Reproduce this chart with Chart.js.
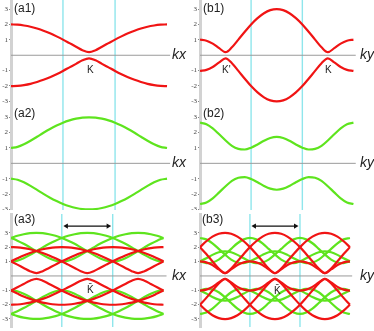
<!DOCTYPE html>
<html>
<head>
<meta charset="utf-8">
<script src="https://cdn.jsdelivr.net/npm/chart.js"></script>
<style>
  body { margin:0; background:#fff; }
  #fig { position:relative; width:374px; height:331px; overflow:hidden; background:#fff; }
  #fig canvas { position:absolute; }
  .lbl { position:absolute; font-family:"Liberation Sans", Arial, sans-serif; color:#222; white-space:nowrap; line-height:1; }
  .pn { font-size:12px; }
  .kk { font-size:14px; font-style:italic; }
  .kp { font-size:10px; }
</style>
</head>
<body>
<div id="fig">
  <canvas id="a1" width="187" height="105" style="left:0;top:0"></canvas>
  <canvas id="b1" width="187" height="105" style="left:187px;top:0"></canvas>
  <canvas id="a2" width="187" height="105" style="left:0;top:105px"></canvas>
  <canvas id="b2" width="187" height="105" style="left:187px;top:105px"></canvas>
  <canvas id="a3" width="187" height="121" style="left:0;top:210px"></canvas>
  <canvas id="b3" width="187" height="121" style="left:187px;top:210px"></canvas>

  <span class="lbl pn" style="left:14px;top:2px">(a1)</span>
  <span class="lbl pn" style="left:203px;top:2px">(b1)</span>
  <span class="lbl pn" style="left:14px;top:107px">(a2)</span>
  <span class="lbl pn" style="left:203px;top:107px">(b2)</span>
  <span class="lbl pn" style="left:14px;top:213px">(a3)</span>
  <span class="lbl pn" style="left:202px;top:213px">(b3)</span>

  <span class="lbl kk" style="left:172px;top:47px">kx</span>
  <span class="lbl kk" style="left:360px;top:47px">ky</span>
  <span class="lbl kk" style="left:172px;top:155px">kx</span>
  <span class="lbl kk" style="left:360px;top:155px">ky</span>
  <span class="lbl kk" style="left:172px;top:268px">kx</span>
  <span class="lbl kk" style="left:360px;top:268px">ky</span>

  <span class="lbl kp" style="left:87px;top:65px">K</span>
  <span class="lbl kp" style="left:222px;top:65px">K'</span>
  <span class="lbl kp" style="left:325px;top:65px">K</span>
  <span class="lbl kp" style="left:87px;top:285px">K&#772;</span>
  <span class="lbl kp" style="left:274px;top:286px">K&#772;</span>
</div>
<script>
// sample positions along k (0 = left edge, 1 = right edge)
const tGrid = [0,0.042,0.083,0.125,0.167,0.208,0.25,0.292,0.333,0.375,0.417,0.458,0.5,0.542,0.583,0.625,0.667,0.708,0.75,0.792,0.833,0.875,0.917,0.958,1];
const cellEdges = [0.333, 0.667];
const yTicks = [-3, -2, -1, 1, 2, 3];

// (a1) red bands along kx
const a1Up = [2.01,1.99,1.94,1.86,1.74,1.6,1.43,1.23,1.02,0.79,0.56,0.33,0.2,0.33,0.56,0.79,1.02,1.23,1.43,1.6,1.74,1.86,1.94,1.99,2.01];
const a1Dn = [-2.01,-1.99,-1.94,-1.86,-1.74,-1.6,-1.43,-1.23,-1.02,-0.79,-0.56,-0.33,-0.2,-0.33,-0.56,-0.79,-1.02,-1.23,-1.43,-1.6,-1.74,-1.86,-1.94,-1.99,-2.01];

// (b1) red bands along ky
const b1Up = [1.02,0.95,0.76,0.46,0.2,0.52,1.02,1.53,2.01,2.42,2.74,2.94,3.01,2.94,2.74,2.42,2.01,1.53,1.02,0.52,0.2,0.46,0.76,0.95,1.02];
const b1Dn = [-1.02,-0.95,-0.76,-0.46,-0.2,-0.52,-1.02,-1.53,-2.01,-2.42,-2.74,-2.94,-3.01,-2.94,-2.74,-2.42,-2.01,-1.53,-1.02,-0.52,-0.2,-0.46,-0.76,-0.95,-1.02];

// (a2) green bands along kx
const a2Up = [1,1.07,1.24,1.47,1.73,1.99,2.24,2.46,2.65,2.8,2.91,2.98,3,2.98,2.91,2.8,2.65,2.46,2.24,1.99,1.73,1.47,1.24,1.07,1];
const a2Dn = [-1,-1.07,-1.24,-1.47,-1.73,-1.99,-2.24,-2.46,-2.65,-2.8,-2.91,-2.98,-3,-2.98,-2.91,-2.8,-2.65,-2.46,-2.24,-1.99,-1.73,-1.47,-1.24,-1.07,-1];

// (b2) green bands along ky
const b2Up = [2.65,2.55,2.28,1.89,1.49,1.14,0.94,0.9,1.02,1.23,1.47,1.65,1.72,1.65,1.47,1.23,1.02,0.9,0.94,1.14,1.49,1.89,2.28,2.55,2.65];
const b2Dn = [-2.65,-2.55,-2.28,-1.89,-1.49,-1.14,-0.94,-0.9,-1.02,-1.23,-1.47,-1.65,-1.72,-1.65,-1.47,-1.23,-1.02,-0.9,-0.94,-1.14,-1.49,-1.89,-2.28,-2.55,-2.65];

// (a3) folded bands along kx
const a3RedUp = [
  [2.01,1.99,1.94,1.86,1.74,1.6,1.43,1.23,1.02,0.79,0.56,0.33,0.2,0.33,0.56,0.79,1.02,1.23,1.43,1.6,1.74,1.86,1.94,1.99,2.01],
  [1.02,0.79,0.56,0.33,0.2,0.33,0.56,0.79,1.02,1.23,1.43,1.6,1.74,1.86,1.94,1.99,2.01,1.99,1.94,1.86,1.74,1.6,1.43,1.23,1.02],
  [1.02,1.23,1.43,1.6,1.74,1.86,1.94,1.99,2.01,1.99,1.94,1.86,1.74,1.6,1.43,1.23,1.02,0.79,0.56,0.33,0.2,0.33,0.56,0.79,1.02]
];
const a3RedDn = [
  [-2.01,-1.99,-1.94,-1.86,-1.74,-1.6,-1.43,-1.23,-1.02,-0.79,-0.56,-0.33,-0.2,-0.33,-0.56,-0.79,-1.02,-1.23,-1.43,-1.6,-1.74,-1.86,-1.94,-1.99,-2.01],
  [-1.02,-0.79,-0.56,-0.33,-0.2,-0.33,-0.56,-0.79,-1.02,-1.23,-1.43,-1.6,-1.74,-1.86,-1.94,-1.99,-2.01,-1.99,-1.94,-1.86,-1.74,-1.6,-1.43,-1.23,-1.02],
  [-1.02,-1.23,-1.43,-1.6,-1.74,-1.86,-1.94,-1.99,-2.01,-1.99,-1.94,-1.86,-1.74,-1.6,-1.43,-1.23,-1.02,-0.79,-0.56,-0.33,-0.2,-0.33,-0.56,-0.79,-1.02]
];
const a3GreenUp = [
  [1,1.07,1.24,1.47,1.73,1.99,2.24,2.46,2.65,2.8,2.91,2.98,3,2.98,2.91,2.8,2.65,2.46,2.24,1.99,1.73,1.47,1.24,1.07,1],
  [2.65,2.8,2.91,2.98,3,2.98,2.91,2.8,2.65,2.46,2.24,1.99,1.73,1.47,1.24,1.07,1,1.07,1.24,1.47,1.73,1.99,2.24,2.46,2.65],
  [2.65,2.46,2.24,1.99,1.73,1.47,1.24,1.07,1,1.07,1.24,1.47,1.73,1.99,2.24,2.46,2.65,2.8,2.91,2.98,3,2.98,2.91,2.8,2.65]
];
const a3GreenDn = [
  [-1,-1.07,-1.24,-1.47,-1.73,-1.99,-2.24,-2.46,-2.65,-2.8,-2.91,-2.98,-3,-2.98,-2.91,-2.8,-2.65,-2.46,-2.24,-1.99,-1.73,-1.47,-1.24,-1.07,-1],
  [-2.65,-2.8,-2.91,-2.98,-3,-2.98,-2.91,-2.8,-2.65,-2.46,-2.24,-1.99,-1.73,-1.47,-1.24,-1.07,-1,-1.07,-1.24,-1.47,-1.73,-1.99,-2.24,-2.46,-2.65],
  [-2.65,-2.46,-2.24,-1.99,-1.73,-1.47,-1.24,-1.07,-1,-1.07,-1.24,-1.47,-1.73,-1.99,-2.24,-2.46,-2.65,-2.8,-2.91,-2.98,-3,-2.98,-2.91,-2.8,-2.65]
];

// (b3) folded bands along ky
const b3RedUp = [
  [1.02,0.95,0.76,0.46,0.2,0.52,1.02,1.53,2.01,2.42,2.74,2.94,3.01,2.94,2.74,2.42,2.01,1.53,1.02,0.52,0.2,0.46,0.76,0.95,1.02],
  [2.01,2.42,2.74,2.94,3.01,2.94,2.74,2.42,2.01,1.53,1.02,0.52,0.2,0.46,0.76,0.95,1.02,0.95,0.76,0.46,0.2,0.52,1.02,1.53,2.01],
  [2.01,1.53,1.02,0.52,0.2,0.46,0.76,0.95,1.02,0.95,0.76,0.46,0.2,0.52,1.02,1.53,2.01,2.42,2.74,2.94,3.01,2.94,2.74,2.42,2.01]
];
const b3RedDn = [
  [-1.02,-0.95,-0.76,-0.46,-0.2,-0.52,-1.02,-1.53,-2.01,-2.42,-2.74,-2.94,-3.01,-2.94,-2.74,-2.42,-2.01,-1.53,-1.02,-0.52,-0.2,-0.46,-0.76,-0.95,-1.02],
  [-2.01,-2.42,-2.74,-2.94,-3.01,-2.94,-2.74,-2.42,-2.01,-1.53,-1.02,-0.52,-0.2,-0.46,-0.76,-0.95,-1.02,-0.95,-0.76,-0.46,-0.2,-0.52,-1.02,-1.53,-2.01],
  [-2.01,-1.53,-1.02,-0.52,-0.2,-0.46,-0.76,-0.95,-1.02,-0.95,-0.76,-0.46,-0.2,-0.52,-1.02,-1.53,-2.01,-2.42,-2.74,-2.94,-3.01,-2.94,-2.74,-2.42,-2.01]
];
const b3GreenUp = [
  [2.65,2.55,2.28,1.89,1.49,1.14,0.94,0.9,1.02,1.23,1.47,1.65,1.72,1.65,1.47,1.23,1.02,0.9,0.94,1.14,1.49,1.89,2.28,2.55,2.65],
  [1.02,1.23,1.47,1.65,1.72,1.65,1.47,1.23,1.02,0.9,0.94,1.14,1.49,1.89,2.28,2.55,2.65,2.55,2.28,1.89,1.49,1.14,0.94,0.9,1.02],
  [1.02,0.9,0.94,1.14,1.49,1.89,2.28,2.55,2.65,2.55,2.28,1.89,1.49,1.14,0.94,0.9,1.02,1.23,1.47,1.65,1.72,1.65,1.47,1.23,1.02]
];
const b3GreenDn = [
  [-2.65,-2.55,-2.28,-1.89,-1.49,-1.14,-0.94,-0.9,-1.02,-1.23,-1.47,-1.65,-1.72,-1.65,-1.47,-1.23,-1.02,-0.9,-0.94,-1.14,-1.49,-1.89,-2.28,-2.55,-2.65],
  [-1.02,-1.23,-1.47,-1.65,-1.72,-1.65,-1.47,-1.23,-1.02,-0.9,-0.94,-1.14,-1.49,-1.89,-2.28,-2.55,-2.65,-2.55,-2.28,-1.89,-1.49,-1.14,-0.94,-0.9,-1.02],
  [-1.02,-0.9,-0.94,-1.14,-1.49,-1.89,-2.28,-2.55,-2.65,-2.55,-2.28,-1.89,-1.49,-1.14,-0.94,-0.9,-1.02,-1.23,-1.47,-1.65,-1.72,-1.65,-1.47,-1.23,-1.02]
];

const RED = '#f01414';
const GREEN = '#5ee41e';
const CYAN = '#8fe6ec';

function band(vals, color) {
  return {
    data: tGrid.map((t, i) => ({ x: t, y: vals[i] })),
    borderColor: color, borderWidth: 2.2, pointRadius: 0,
    cubicInterpolationMode: 'monotone', fill: false
  };
}

function drawPanel(id, p) {
  const sets = [];
  p.red.forEach(v => sets.push(band(v, RED)));
  p.green.forEach(v => sets.push(band(v, GREEN)));
  if (p.arrowY !== undefined) {
    sets.push({
      data: [{ x: cellEdges[0] + 0.03, y: p.arrowY }, { x: cellEdges[1] - 0.03, y: p.arrowY }],
      borderColor: '#111', borderWidth: 1.2,
      pointStyle: 'triangle', pointRadius: 3, pointRotation: [270, 90],
      pointBackgroundColor: '#111', pointBorderColor: '#111', pointBorderWidth: 0
    });
  }
  // zero line
  sets.push({
    data: [{ x: 0, y: 0 }, { x: p.zeroEnd, y: 0 }],
    borderColor: '#9a9a9a', borderWidth: 1, pointRadius: 0
  });
  // cell boundaries
  cellEdges.forEach(e => sets.push({
    data: [{ x: e, y: p.yMin }, { x: e, y: p.yMax }],
    borderColor: CYAN, borderWidth: 1.4, pointRadius: 0
  }));

  new Chart(document.getElementById(id), {
    type: 'line',
    data: { datasets: sets },
    options: {
      responsive: false,
      animation: false,
      events: [],
      layout: { padding: 0 },
      plugins: { legend: { display: false }, tooltip: { enabled: false } },
      scales: {
        x: { type: 'linear', display: false, min: 0, max: p.xMax },
        y: {
          type: 'linear', min: p.yMin, max: p.yMax,
          afterBuildTicks: s => { s.ticks = yTicks.map(v => ({ value: v })); },
          afterFit: s => { s.width = p.axisW; s.paddingTop = 0; s.paddingBottom = 0; },
          border: { display: true, color: '#d2d2d2', width: 3 },
          grid: { display: true, drawOnChartArea: false, drawTicks: true, tickLength: 2, tickColor: '#888' },
          ticks: {
            autoSkip: false, padding: 1, color: '#444',
            font: { family: 'Liberation Serif', size: 7 },
            callback: v => String(v)
          }
        }
      }
    }
  });
}

drawPanel('a1', { red: [a1Up, a1Dn], green: [], yMin: -3.24, yMax: 3.6, xMax: 1.128, axisW: 11, zeroEnd: 1.02 });
drawPanel('b1', { red: [b1Up, b1Dn], green: [], yMin: -3.24, yMax: 3.6, xMax: 1.134, axisW: 13, zeroEnd: 1.015 });
drawPanel('a2', { red: [], green: [a2Up, a2Dn], yMin: -3.04, yMax: 3.8, xMax: 1.128, axisW: 11, zeroEnd: 1.02 });
drawPanel('b2', { red: [], green: [b2Up, b2Dn], yMin: -3.04, yMax: 3.8, xMax: 1.134, axisW: 13, zeroEnd: 1.015 });
drawPanel('a3', { red: a3RedUp.concat(a3RedDn), green: a3GreenUp.concat(a3GreenDn), yMin: -3.56, yMax: 4.32, xMax: 1.128, axisW: 11, zeroEnd: 1.02, arrowY: 3.48 });
drawPanel('b3', { red: b3RedUp.concat(b3RedDn), green: b3GreenUp.concat(b3GreenDn), yMin: -3.56, yMax: 4.32, xMax: 1.134, axisW: 13, zeroEnd: 1.015, arrowY: 3.48 });
</script>
</body>
</html>
